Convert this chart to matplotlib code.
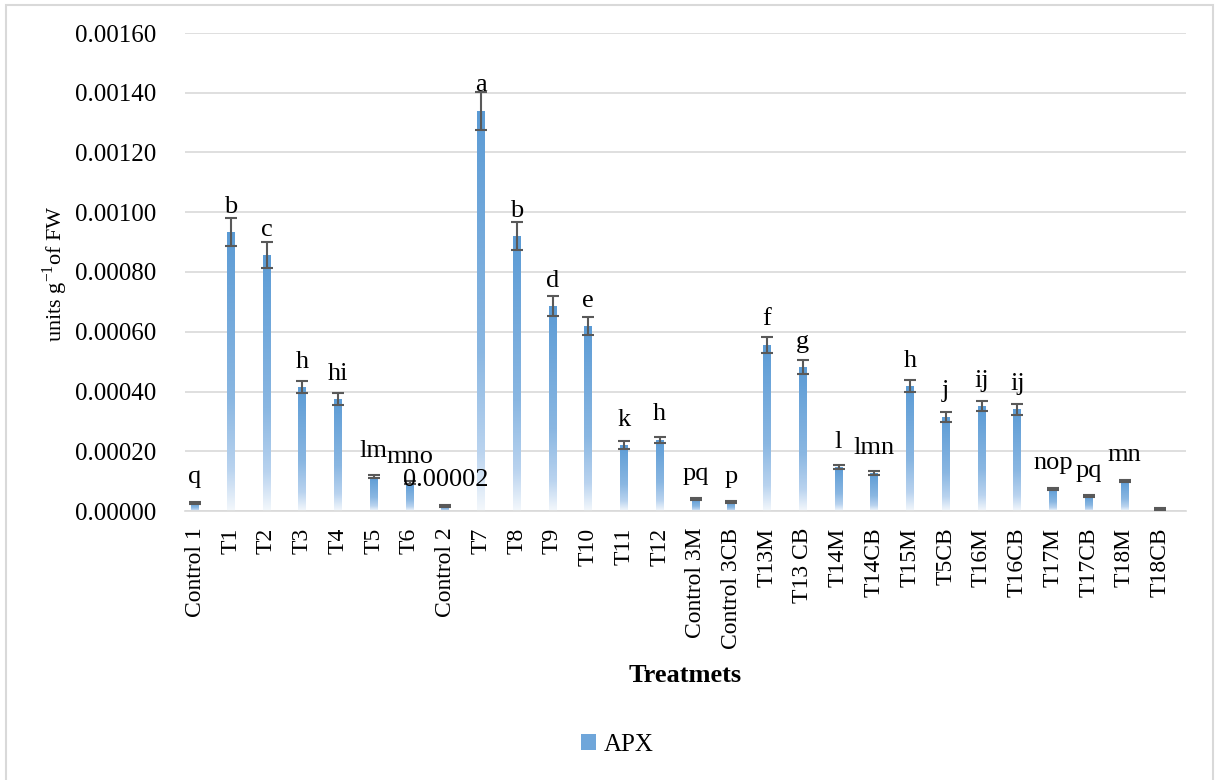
import matplotlib
matplotlib.use("Agg")
import matplotlib.pyplot as plt
import matplotlib.patches as patches
import numpy as np
from matplotlib.colors import LinearSegmentedColormap

plt.rcParams['font.family'] = ['Liberation Serif', 'DejaVu Serif']
plt.rcParams['mathtext.fontset'] = 'custom'
plt.rcParams['mathtext.rm'] = 'Liberation Serif'

# data
treatments = ['Control 1', 'T1', 'T2', 'T3', 'T4', 'T5', 'T6', 'Control 2',
              'T7', 'T8', 'T9', 'T10', 'T11', 'T12', 'Control 3M', 'Control 3CB',
              'T13M', 'T13 CB', 'T14M', 'T14CB', 'T15M', 'T5CB', 'T16M', 'T16CB',
              'T17M', 'T17CB', 'T18M', 'T18CB']
apx = [0.000027, 0.000934, 0.000857, 0.000415, 0.000375, 0.000114, 0.000094, 0.000017,
       0.001340, 0.000920, 0.000686, 0.000619, 0.000221, 0.000238, 0.000040, 0.000030,
       0.000556, 0.000482, 0.000147, 0.000127, 0.000418, 0.000315, 0.000351, 0.000341,
       0.000074, 0.000050, 0.000101, 0.000007]
err = [0.000003, 0.000047, 0.000042, 0.000020, 0.000020, 0.000005, 0.000005, 0.000002,
       0.000064, 0.000047, 0.000034, 0.000030, 0.000012, 0.000010, 0.000003, 0.000003,
       0.000028, 0.000024, 0.000008, 0.000006, 0.000021, 0.000017, 0.000017, 0.000018,
       0.000003, 0.000003, 0.000004, 0.000002]
letters = ['q', 'b', 'c', 'h', 'hi', 'lm', 'mno', '0.00002',
           'a', 'b', 'd', 'e', 'k', 'h', 'pq', 'p',
           'f', 'g', 'l', 'lmn', 'h', 'j', 'ij', 'ij',
           'nop', 'pq', 'mn', '']

fig = plt.figure(figsize=(12.16, 7.8), dpi=100)
ax = fig.add_axes([185/1216, 1-511/780, 1001/1216, 478/780])

# chart border
fig.patches.append(patches.Rectangle((6/1216, -0.05), 1207/1216, 1.05-5/780,
                                     transform=fig.transFigure, fill=False,
                                     edgecolor='#d9d9d9', linewidth=1.5))

cmap = LinearSegmentedColormap.from_list('apx', [(0.0, '#f4f8fc'), (0.15, '#b9d3ef'),
                                                 (0.4, '#8ab7e2'), (1.0, '#5b9bd5')])
grad = np.linspace(0, 1, 256).reshape(-1, 1)

x = np.arange(len(treatments))
bars = ax.bar(x, apx, width=0.22, color='none', edgecolor='none', zorder=2)
for b in bars:
    x0 = b.get_x()
    h = b.get_height()
    im = ax.imshow(grad, cmap=cmap, origin='lower', aspect='auto',
                   extent=[x0, x0 + b.get_width(), 0, h], zorder=2)
    im.set_clip_path(b)

ax.errorbar(x, apx, yerr=err, fmt='none', ecolor='#595959', elinewidth=1.5,
            capsize=4.5, capthick=1.5, zorder=3)

for xi, v, t in zip(x, apx, letters):
    ax.annotate(t, (xi, v), xytext=(0, 14), textcoords='offset points',
                ha='center', va='baseline', fontsize=19, zorder=4)

ax.set_xlim(-0.28, 27.72)
ax.set_ylim(0, 0.0016)
ax.set_yticks(np.arange(0, 0.00161, 0.0002))
ax.set_yticklabels(['%.5f' % v for v in np.arange(0, 0.00161, 0.0002)])
ax.set_xticks(x)
ax.set_xticklabels(treatments, rotation=90, va='top', ha='center')
ax.tick_params(axis='both', length=0, labelsize=17)
ax.tick_params(axis='y', pad=21, labelsize=18)
ax.tick_params(axis='x', pad=12)
ax.grid(axis='y', color='#d9d9d9', linewidth=1.2)
ax.set_axisbelow(True)
for s in ['left', 'right', 'top']:
    ax.spines[s].set_visible(False)
ax.spines['bottom'].set_color('#d9d9d9')
ax.spines['bottom'].set_linewidth(1.2)

fig.text(685/1216, 1-675/780, 'Treatmets', ha='center', va='center',
         fontsize=19, fontweight='bold')
fig.text(55/1216, 1-274/780, r'units g$^{\mathrm{-1}}$of FW', rotation=90,
         ha='center', va='center', fontsize=16)

fig.legend(handles=[patches.Patch(facecolor='#6fa6da', edgecolor='none', label='APX')],
           loc='center', bbox_to_anchor=(617/1216, 1-745/780), frameon=False,
           fontsize=18, handlelength=0.6, handleheight=0.6, handletextpad=0.3)

fig.savefig('out.png', dpi=100)
